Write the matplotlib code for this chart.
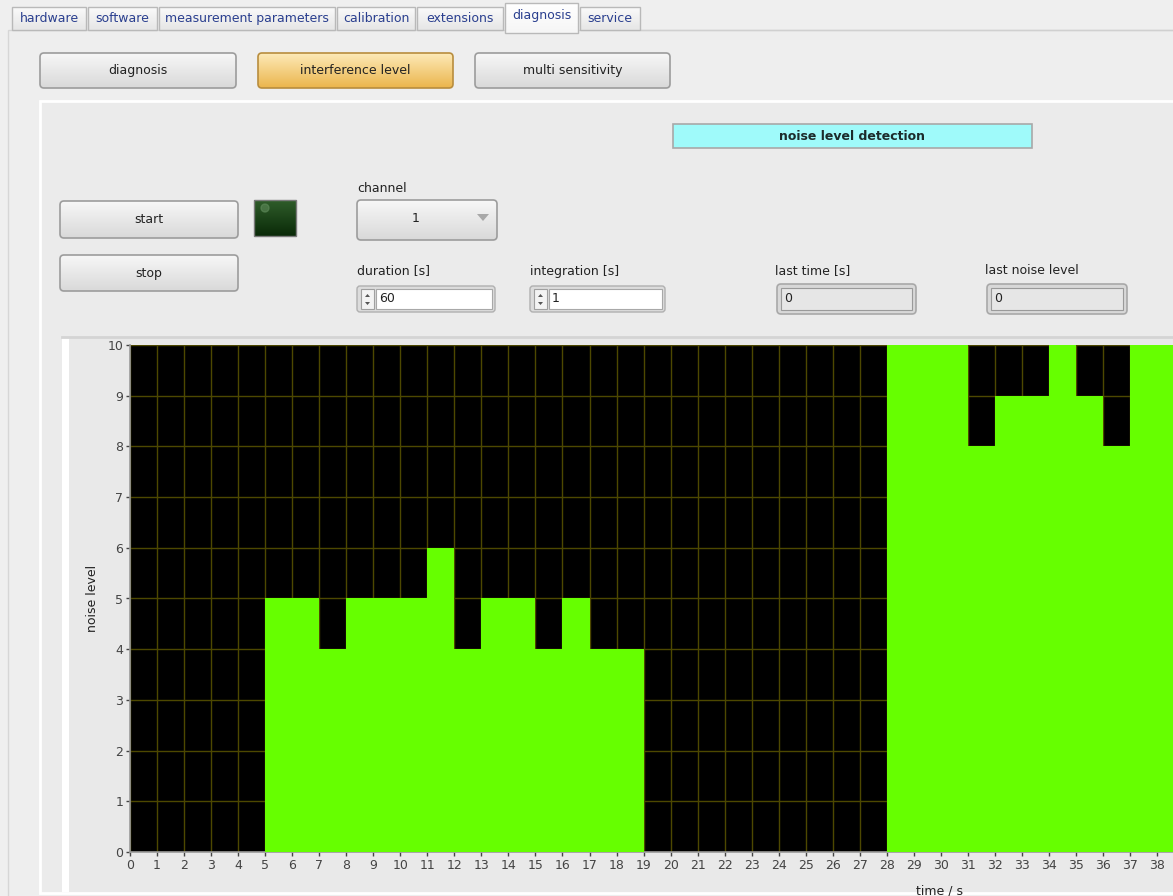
import numpy as np
import matplotlib
matplotlib.use("Agg")
import matplotlib.pyplot as plt
from matplotlib.patches import Rectangle, FancyBboxPatch, Polygon
from matplotlib.colors import to_rgb

# chart data: noise level per second
time_s = list(range(0, 39))
noise_level = [0, 0, 0, 0, 0, 5, 5, 4, 5, 5, 5, 6, 4, 5, 5, 4, 5, 4, 4,
               0, 0, 0, 0, 0, 0, 0, 0, 0, 10, 10, 10, 8, 9, 9, 10, 9, 8, 10, 10]
x_ticks = list(range(0, 39))
y_ticks = list(range(0, 11))

tab_names = ["hardware", "software", "measurement parameters", "calibration",
             "extensions", "diagnosis", "service"]
tab_edges = [11, 87, 158, 336, 416, 504, 579, 641]
selected_tab = "diagnosis"
mode_buttons = ["diagnosis", "interference level", "multi sensitivity"]

W, H = 1173, 896
fig = plt.figure(figsize=(W / 100, H / 100), dpi=100)
fig.patch.set_facecolor("#efefef")

bg = fig.add_axes([0, 0, 1, 1])
bg.set_xlim(0, W)
bg.set_ylim(H, 0)
bg.axis("off")

FS = 9
TXT = "#222222"


def gradient(x0, y0, x1, y1, ctop, cbot, clip=None, z=2):
    a = np.array(to_rgb(ctop))
    b = np.array(to_rgb(cbot))
    f = np.linspace(0, 1, 64)[:, None]
    img = (a * (1 - f) + b * f)[:, None, :]
    im = bg.imshow(img, extent=(x0, x1, y1, y0), origin="upper",
                   aspect="auto", zorder=z, interpolation="bilinear")
    if clip is not None:
        im.set_clip_path(clip)


def button(x0, y0, x1, y1, label, ctop="#f7f7f7", cbot="#d9d9d9",
           edge="#9c9c9c"):
    p = FancyBboxPatch((x0, y0), x1 - x0, y1 - y0,
                       boxstyle="round,pad=0,rounding_size=4",
                       facecolor="none", edgecolor=edge, lw=1.2, zorder=3)
    bg.add_patch(p)
    gradient(x0, y0, x1, y1, ctop, cbot, clip=p)
    if label:
        bg.text((x0 + x1) / 2, (y0 + y1) / 2, label, fontsize=FS, color=TXT,
                ha="center", va="center", zorder=4)


# outer panel under tabs
bg.add_patch(Rectangle((8, 30), W, H, facecolor="#eeeeee",
                       edgecolor="#d6d6d6", lw=1, zorder=1))

# tabs
for i, name in enumerate(tab_names):
    x0, x1 = tab_edges[i] + 1, tab_edges[i + 1] - 1
    if name == selected_tab:
        y0, y1, ct, cb = 3, 33, "#ffffff", "#f6f6f6"
    else:
        y0, y1, ct, cb = 7, 30, "#fafafa", "#e6e6e6"
    r = Rectangle((x0, y0), x1 - x0, y1 - y0, facecolor="none",
                  edgecolor="#b9b9b9", lw=1, zorder=3)
    bg.add_patch(r)
    gradient(x0, y0, x1, y1, ct, cb, clip=r)
    bg.text((x0 + x1) / 2, (y0 + y1) / 2 - (2 if name == selected_tab else 0),
            name, fontsize=FS, color="#2a3f8f", ha="center", va="center",
            zorder=4)
bg.plot([641, W], [30, 30], color="#d0d0d0", lw=1, zorder=2)

# mode buttons
button(40, 53, 236, 88, mode_buttons[0])
button(258, 53, 453, 88, mode_buttons[1], ctop="#fdeab8", cbot="#ebb54c",
       edge="#b88d3e")
button(475, 53, 670, 88, mode_buttons[2])

# inner panel
bg.add_patch(Rectangle((40, 101), W, 792, facecolor="#ebebeb",
                       edgecolor="#ffffff", lw=2, zorder=1.5))

# title indicator
bg.add_patch(Rectangle((673, 124), 359, 24, facecolor="#9ffafa",
                       edgecolor="#a8a8a8", lw=1.2, zorder=3))
bg.text(852, 136, "noise level detection", fontsize=FS, fontweight="bold",
        color="#1c2b2b", ha="center", va="center", zorder=4)

# start / stop
button(60, 201, 238, 238, "start")
button(60, 255, 238, 291, "stop")

# LED
led = Rectangle((254, 200), 42, 36, facecolor="none", edgecolor="#7a7a7a",
                lw=1, zorder=3)
bg.add_patch(led)
gradient(254, 200, 296, 236, "#2f5d2a", "#0a2a08", clip=led)
bg.add_patch(plt.Circle((265, 208), 4, color="#5f8a5a", alpha=0.6, zorder=4))

# channel ring
bg.text(357, 189, "channel", fontsize=FS, color=TXT, va="center", zorder=4)
button(357, 200, 497, 240, "")
bg.text(416, 219, "1", fontsize=FS, color=TXT, ha="center", va="center",
        zorder=4)
bg.add_patch(Polygon([[477, 214], [489, 214], [483, 221]], closed=True,
                     facecolor="#a8a8a8", edgecolor="none", zorder=4))


def numeric(x0, x1, label, value):
    bg.text(x0, 271, label, fontsize=FS, color=TXT, va="center", zorder=4)
    bg.add_patch(FancyBboxPatch((x0, 286), x1 - x0, 26,
                                boxstyle="round,pad=0,rounding_size=3",
                                facecolor="#dcdcdc", edgecolor="#b0b0b0",
                                lw=1, zorder=3))
    bg.add_patch(Rectangle((x0 + 4, 289), 13, 20, facecolor="#f3f3f3",
                           edgecolor="#a0a0a0", lw=0.8, zorder=4))
    bg.add_patch(Polygon([[x0 + 8, 297], [x0 + 13, 297], [x0 + 10.5, 294]],
                         facecolor="#555555", zorder=5))
    bg.add_patch(Polygon([[x0 + 8, 302], [x0 + 13, 302], [x0 + 10.5, 305]],
                         facecolor="#555555", zorder=5))
    bg.add_patch(Rectangle((x0 + 19, 289), x1 - x0 - 22, 20,
                           facecolor="#ffffff", edgecolor="#a8a8a8", lw=0.8,
                           zorder=4))
    bg.text(x0 + 22, 299, value, fontsize=FS, color=TXT, va="center", zorder=5)


def indicator(x0, x1, label, value):
    bg.text(x0 - 2, 271, label, fontsize=FS, color=TXT, va="center", zorder=4)
    bg.add_patch(FancyBboxPatch((x0, 284), x1 - x0, 30,
                                boxstyle="round,pad=0,rounding_size=4",
                                facecolor="#d8d8d8", edgecolor="#a8a8a8",
                                lw=1.2, zorder=3))
    bg.add_patch(Rectangle((x0 + 4, 288), x1 - x0 - 8, 22,
                           facecolor="#e6e6e6", edgecolor="#9a9a9a", lw=0.8,
                           zorder=4))
    bg.text(x0 + 7, 299, value, fontsize=FS, color=TXT, va="center", zorder=5)


numeric(357, 495, "duration [s]", "60")
numeric(530, 665, "integration [s]", "1")
indicator(777, 916, "last time [s]", "0")
indicator(987, 1127, "last noise level", "0")

# chart frame
bg.add_patch(Rectangle((62, 337), W, 555, facecolor="#e9e9e9",
                       edgecolor="none", zorder=1.6))
bg.add_patch(Rectangle((62, 337), 7, 555, facecolor="#ffffff",
                       edgecolor="none", zorder=1.7))
bg.plot([62, W], [337, 337], color="#d4d4d4", lw=2, zorder=1.8)

# chart
L, R, T, B = 130, W, 345, 852
ax = fig.add_axes([L / W, (H - B) / H, (R - L) / W, (B - T) / H])
ax.set_facecolor("black")
edges = np.append(time_s, time_s[-1] + 1)
ax.stairs(noise_level, edges, fill=True, baseline=0, color="#66ff00",
          zorder=3)
ax.set_xlim(0, (R - L) / 27.03)
ax.set_ylim(0, 10)
ax.set_xticks(x_ticks)
ax.set_yticks(y_ticks)
ax.grid(True, color="#4d4800", lw=1.0, zorder=1)
ax.set_axisbelow(True)
ax.tick_params(axis="both", labelsize=FS, colors="#444444", length=3,
               width=1, direction="out", pad=2)
for s in ["top", "right"]:
    ax.spines[s].set_visible(False)
for s in ["bottom", "left"]:
    ax.spines[s].set_color("#9a9a9a")
    ax.spines[s].set_linewidth(1.2)

fig.text(92 / W, 1 - 598 / H, "noise level", rotation=90, fontsize=FS,
         color=TXT, ha="center", va="center")
fig.text(940 / W, 1 - 891 / H, "time / s", fontsize=FS, color=TXT,
         ha="center", va="center")

fig.savefig("out.png", dpi=100, facecolor=fig.get_facecolor())
